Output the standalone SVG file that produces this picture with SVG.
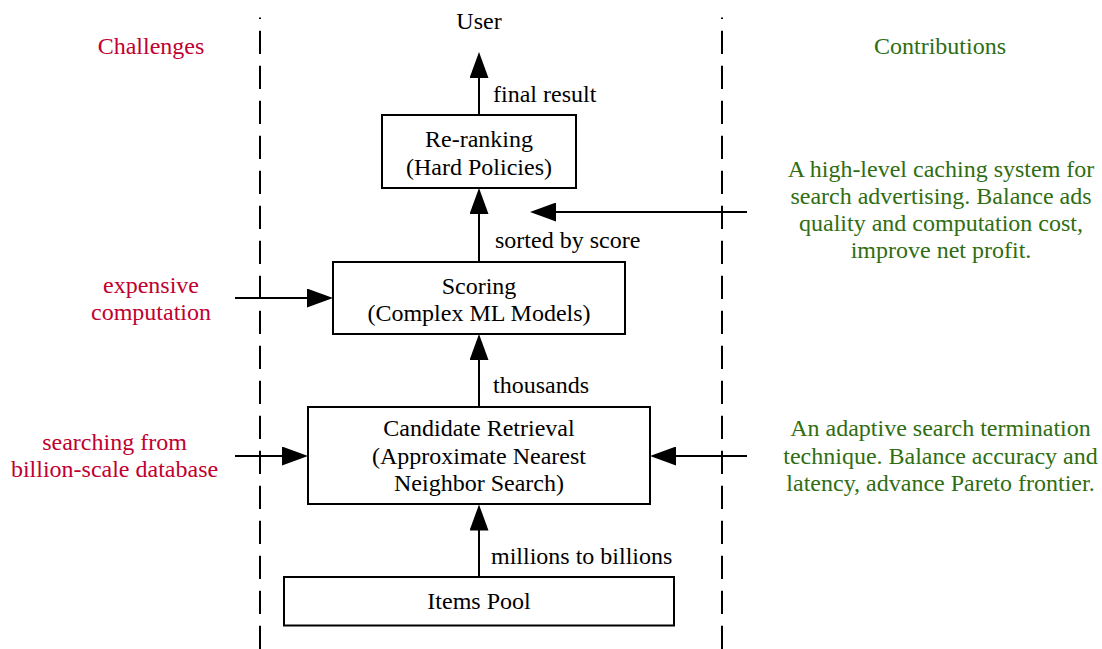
<svg xmlns="http://www.w3.org/2000/svg" width="1102" height="649" viewBox="0 0 1102 649">
<style>
text{font-family:"Liberation Serif","Times New Roman",serif;font-size:24px;}
.c{text-anchor:middle;}
.k{fill:#000;}
.r{fill:#c00030;}
.g{fill:#2f6d12;}
.box{fill:#fff;stroke:#000;stroke-width:2;}
.ln{stroke:#000;stroke-width:2;fill:none;}
.dash{stroke:#000;stroke-width:2;fill:none;stroke-dasharray:23.3 11.7;stroke-dashoffset:21.8;}
</style>
<defs>
<marker id="ah" markerUnits="userSpaceOnUse" markerWidth="26" markerHeight="19" refX="16" refY="9.5" orient="auto" viewBox="0 0 26 19">
<path d="M0,0 L26,9.5 L0,19 z" fill="#000"/>
</marker>
</defs>
<rect width="1102" height="649" fill="#fff"/>
<g id="separators">
<line class="dash" x1="260" y1="17.5" x2="260" y2="649"/>
<line class="dash" x1="722" y1="17.5" x2="722" y2="649"/>
</g>
<g id="connectors">
<line class="ln" x1="479" y1="115" x2="479" y2="62" marker-end="url(#ah)"/>
<line class="ln" x1="479" y1="262" x2="479" y2="198" marker-end="url(#ah)"/>
<line class="ln" x1="479" y1="407" x2="479" y2="344" marker-end="url(#ah)"/>
<line class="ln" x1="479" y1="577" x2="479" y2="514.5" marker-end="url(#ah)"/>
<line class="ln" x1="235" y1="298" x2="323" y2="298" marker-end="url(#ah)"/>
<line class="ln" x1="235" y1="456" x2="298" y2="456" marker-end="url(#ah)"/>
<line class="ln" x1="747" y1="212" x2="540" y2="212" marker-end="url(#ah)"/>
<line class="ln" x1="747" y1="456" x2="660" y2="456" marker-end="url(#ah)"/>
<text class="k" x="493" y="101.5">final result</text>
<text class="k" x="495" y="247.5">sorted by score</text>
<text class="k" x="493" y="392.5">thousands</text>
<text class="k" x="491" y="563.5">millions to billions</text>
</g>
<g id="user"><text class="k c" x="479" y="28.5">User</text></g>
<g id="reranking">
<rect class="box" x="382" y="115" width="194" height="73"/>
<text class="k c" x="479" y="147">Re-ranking</text>
<text class="k c" x="479" y="174.5">(Hard Policies)</text>
</g>
<g id="scoring">
<rect class="box" x="333" y="262" width="292" height="72"/>
<text class="k c" x="479" y="293.5">Scoring</text>
<text class="k c" x="479" y="320.5">(Complex ML Models)</text>
</g>
<g id="retrieval">
<rect class="box" x="308" y="407" width="342" height="97"/>
<text class="k c" x="479" y="436">Candidate Retrieval</text>
<text class="k c" x="479" y="463.5">(Approximate Nearest</text>
<text class="k c" x="479" y="491">Neighbor Search)</text>
</g>
<g id="itemspool">
<rect class="box" x="284" y="577" width="390" height="48.5"/>
<text class="k c" x="479" y="608.5">Items Pool</text>
</g>
<g id="challenges">
<text class="r c" x="151" y="53.5">Challenges</text>
<text class="r c" x="151" y="292.5">expensive</text>
<text class="r c" x="151" y="320">computation</text>
<text class="r c" x="114.5" y="450">searching from</text>
<text class="r c" x="114.5" y="477">billion-scale database</text>
</g>
<g id="contributions">
<text class="g c" x="940" y="53.5">Contributions</text>
<text class="g c" x="941" y="176.5">A high-level caching system for</text>
<text class="g c" x="941" y="203.5">search advertising. Balance ads</text>
<text class="g c" x="941" y="230.5">quality and computation cost,</text>
<text class="g c" x="941" y="257.5">improve net profit.</text>
<text class="g c" x="940.5" y="436">An adaptive search termination</text>
<text class="g c" x="940.5" y="463.5">technique. Balance accuracy and</text>
<text class="g c" x="940.5" y="491">latency, advance Pareto frontier.</text>
</g>
</svg>
